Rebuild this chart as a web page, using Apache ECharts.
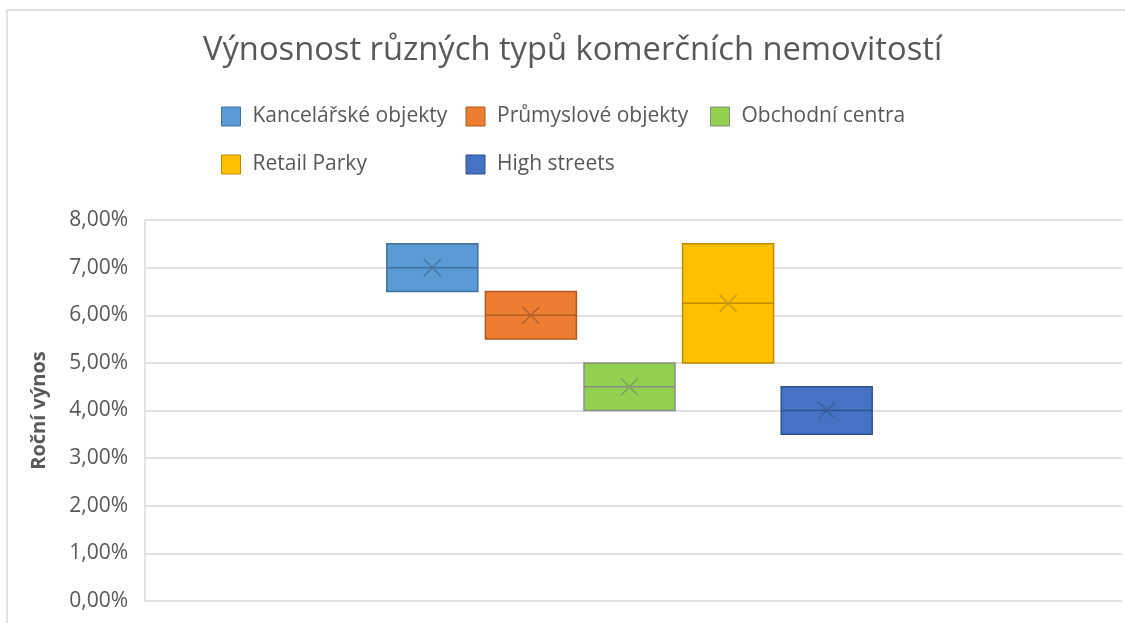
<!DOCTYPE html>
<html>
<head>
<meta charset="utf-8">
<script src="https://cdn.jsdelivr.net/npm/echarts@6/dist/echarts.min.js"></script>
<style>
  html, body { margin: 0; padding: 0; background: #fff; }
  #chart { width: 1125px; height: 623px; }
</style>
</head>
<body>
<div id="chart"></div>
<script>
// typy nemovitostí
var categories = ['Kancelářské objekty', 'Průmyslové objekty', 'Obchodní centra', 'Retail Parky', 'High streets']
// hodnoty boxů v procentech (min = Q1, max = Q3, bez vousů)
var minValues = [6.5, 5.5, 4.0, 5.0, 3.5]
var q1Values = [6.5, 5.5, 4.0, 5.0, 3.5]
var medianValues = [7.0, 6.0, 4.5, 6.25, 4.0]
var q3Values = [7.5, 6.5, 5.0, 7.5, 4.5]
var maxValues = [7.5, 6.5, 5.0, 7.5, 4.5]
var meanValues = [7.0, 6.0, 4.5, 6.25, 4.0]
// popisky osy y
var yTicks = [0, 1, 2, 3, 4, 5, 6, 7, 8]

var fills = ['#5B9BD5', '#ED7D31', '#92D050', '#FFC000', '#4472C4']
var borders = ['#41719C', '#AE5A21', '#8C8C8C', '#BC8C00', '#2F528F']
var marks = ['#4A7BA8', '#B8612A', '#7FA35A', '#C79A1A', '#3A5E9E']

var FONT = '"Open Sans", sans-serif'
var chart = echarts.init(document.getElementById('chart'))

function fmt(v) {
  return v.toFixed(2).replace('.', ',') + '%'
}

var boxData = categories.map(function (c, i) {
  return {
    value: [minValues[i], q1Values[i], medianValues[i], q3Values[i], maxValues[i]],
    itemStyle: { color: fills[i], borderColor: borders[i], borderWidth: 1.5 }
  }
})

var series = [{
  name: 'box',
  type: 'boxplot',
  xAxisIndex: 1,
  yAxisIndex: 1,
  boxWidth: [91, 91],
  silent: true,
  data: boxData
}]

// křížky průměru - zároveň zdroj legendy
categories.forEach(function (c, i) {
  series.push({
    name: c,
    type: 'scatter',
    xAxisIndex: 1,
    yAxisIndex: 1,
    symbol: 'path://M0,0L10,10M10,0L0,10',
    symbolSize: 17,
    itemStyle: { color: 'none', borderColor: marks[i], borderWidth: 1.5, opacity: 1 },
    data: [[c, meanValues[i]]],
    z: 5
  })
})

var option = {
  backgroundColor: '#fff',
  animation: false,
  title: {
    text: 'Výnosnost různých typů komerčních nemovitostí',
    left: 198,
    top: 29,
    textStyle: { color: '#595959', fontSize: 32.7, fontWeight: 'normal', fontFamily: FONT }
  },
  legend: {
    left: 216,
    top: 94,
    width: 740,
    itemWidth: 19,
    itemHeight: 19,
    itemGap: 13,
    data: categories.map(function (c, i) {
      return {
        name: c,
        icon: 'rect',
        itemStyle: { color: fills[i], borderColor: borders[i], borderWidth: 1, opacity: 1 }
      }
    }),
    textStyle: {
      color: '#595959', fontSize: 21, fontFamily: FONT,
      width: 200, lineHeight: 35, padding: [0, 0, 0, 7]
    }
  },
  graphic: [{
    type: 'rect',
    shape: { x: 7, y: 10, width: 1200, height: 700 },
    style: { fill: 'none', stroke: '#D9D9D9', lineWidth: 1.5 },
    silent: true
  }],
  grid: [
    { left: 145, right: 3, top: 220, bottom: 22 },
    { left: 383, width: 493, top: 220, bottom: 22 }
  ],
  xAxis: [
    { type: 'category', gridIndex: 0, data: [''], show: false },
    { type: 'category', gridIndex: 1, data: categories, show: false }
  ],
  yAxis: [{
    type: 'value',
    gridIndex: 0,
    min: yTicks[0],
    max: yTicks[yTicks.length - 1],
    interval: 1,
    name: 'Roční výnos',
    nameLocation: 'middle',
    nameGap: 96,
    nameTextStyle: { color: '#595959', fontSize: 20, fontWeight: 'bold', fontFamily: FONT },
    axisLine: { show: true, lineStyle: { color: '#D9D9D9', width: 1.5 } },
    axisTick: { show: false },
    axisLabel: { color: '#595959', fontSize: 21, fontFamily: FONT, margin: 17, formatter: fmt },
    splitLine: { lineStyle: { color: '#D9D9D9', width: 1.5 } }
  }, {
    type: 'value',
    gridIndex: 1,
    min: yTicks[0],
    max: yTicks[yTicks.length - 1],
    show: false,
    splitLine: { show: false }
  }],
  series: series
}

chart.setOption(option)
</script>
</body>
</html>
